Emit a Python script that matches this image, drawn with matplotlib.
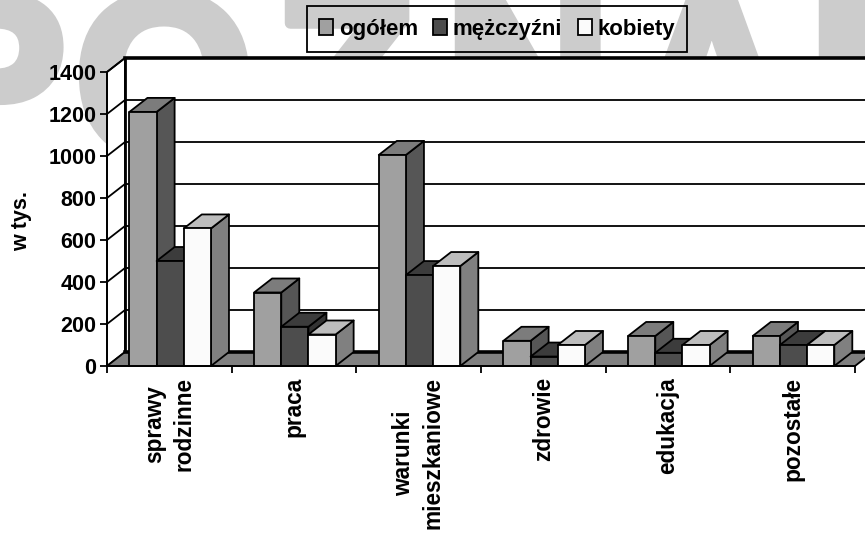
import matplotlib.pyplot as plt
import matplotlib.patheffects as pe
from matplotlib.patches import Patch, Polygon

plt.rcParams['font.family'] = ['Liberation Sans', 'DejaVu Sans']
plt.rcParams['font.weight'] = 'bold'

categories = ['sprawy\nrodzinne', 'praca', 'warunki\nmieszkaniowe', 'zdrowie', 'edukacja', 'pozostałe']
ogolem = [1210, 350, 1005, 120, 143, 143]
mezczyzni = [500, 187, 433, 45, 63, 100]
kobiety = [655, 150, 476, 100, 100, 100]
series_names = ['ogółem', 'mężczyźni', 'kobiety']
y_ticks = [0, 200, 400, 600, 800, 1000, 1200, 1400]

watermark = ['P', 'O', 'Z', 'N', 'A', 'N']
watermark_x = [-87, 75, 275, 445, 629, 809]

# face, top, side
colours = [('#a0a0a0', '#7c7c7c', '#565656'),
           ('#4d4d4d', '#3c3c3c', '#333333'),
           ('#fbfbfb', '#bdbdbd', '#808080')]

W, H = 865, 537
DX = 18 / 124.7   # depth offset, in category units
DY = 14 / 42 * 200   # depth offset, in value units
BAR = 0.218
START = 0.18


def box(ax, x, v, cols):
    side = [(x + BAR, 0), (x + BAR + DX, DY), (x + BAR + DX, v + DY), (x + BAR, v)]
    top = [(x, v), (x + DX, v + DY), (x + BAR + DX, v + DY), (x + BAR, v)]
    front = [(x, 0), (x + BAR, 0), (x + BAR, v), (x, v)]
    for pts, col in zip((side, top, front), (cols[2], cols[1], cols[0])):
        ax.add_patch(Polygon(pts, closed=True, fc=col, ec='black', lw=1.3,
                             joinstyle='round', clip_on=False, zorder=5))


fig = plt.figure(figsize=(W / 100, H / 100), dpi=100)
for ch, px in zip(watermark, watermark_x):
    fig.text(px / W, 1 - 155 / H, ch, fontsize=165, color='#cccccc', ha='left', va='baseline', zorder=0,
             path_effects=[pe.withStroke(linewidth=8, foreground='#cccccc')])

ax = fig.add_axes([107 / W, (H - 366) / H, 748 / W, 294 / H])
ax.set_zorder(1)
ax.patch.set_alpha(0)
ax.set_xlim(0, 6)
ax.set_ylim(0, 1400)

# walls and floor
ax.add_patch(Polygon([(0, 0), (DX, DY), (DX, 1400 + DY), (0, 1400)], fc='white', ec='black',
                     lw=1.3, clip_on=False, zorder=1))
ax.add_patch(Polygon([(DX, DY), (6 + DX, DY), (6 + DX, 1400 + DY), (DX, 1400 + DY)], fc='white',
                     ec='none', clip_on=False, zorder=1))
ax.plot([DX, DX], [DY, 1400 + DY], color='black', lw=2, clip_on=False, zorder=3)
ax.plot([DX, 6 + DX], [1400 + DY, 1400 + DY], color='black', lw=2.6, clip_on=False, zorder=3)
for v in y_ticks[1:-1]:
    ax.plot([DX, 6 + DX], [v + DY, v + DY], color='black', lw=1.3, clip_on=False, zorder=2)
    ax.plot([0, DX], [v, v + DY], color='black', lw=1.3, clip_on=False, zorder=2)
ax.plot([0, DX], [1400, 1400 + DY], color='black', lw=1.3, clip_on=False, zorder=2)
ax.add_patch(Polygon([(0, 0), (DX, DY), (6 + DX, DY), (6, 0)], fc='#808080', ec='black',
                     lw=1.3, clip_on=False, zorder=3))
ax.plot([DX, 6 + DX], [DY, DY], color='black', lw=2.6, clip_on=False, zorder=3)

for i in range(len(categories)):
    for j, vals in enumerate((ogolem, mezczyzni, kobiety)):
        box(ax, i + START + j * BAR, vals[i], colours[j])

for s in ('top', 'right'):
    ax.spines[s].set_visible(False)
for s in ('left', 'bottom'):
    ax.spines[s].set_linewidth(1.3)
    ax.spines[s].set_zorder(6)

ax.set_yticks(y_ticks)
ax.tick_params(axis='y', labelsize=15.5, length=5, width=1.3, pad=2.5)
ax.set_xticks(range(7))
ax.set_xticklabels([])
ax.tick_params(axis='x', which='major', length=5, width=1.3)
ax.set_xticks([i + 0.5 for i in range(6)], minor=True)
labels = ax.set_xticklabels(categories, minor=True, rotation=90, fontsize=16.3, va='top', ha='center')
for lab in labels:
    lab.set_linespacing(1.35)
ax.tick_params(axis='x', which='minor', length=0, pad=8)
fig.text(22 / W, 1 - 221 / H, 'w tys.', rotation=90, fontsize=15.5, ha='center', va='center')

handles = [Patch(fc=c[0], ec='black', lw=1.3) for c in colours]
leg = fig.legend(handles, series_names, ncols=3, loc='center', bbox_to_anchor=(497 / W, 1 - 29 / H),
                 fontsize=16, frameon=True, fancybox=False, edgecolor='black',
                 handlelength=0.62, handleheight=0.7, handletextpad=0.25, columnspacing=0.7,
                 borderpad=0.55, borderaxespad=0)
leg.get_frame().set_facecolor('none')
leg.get_frame().set_alpha(None)
leg.get_frame().set_linewidth(1.3)

fig.savefig('out.png', dpi=100)
